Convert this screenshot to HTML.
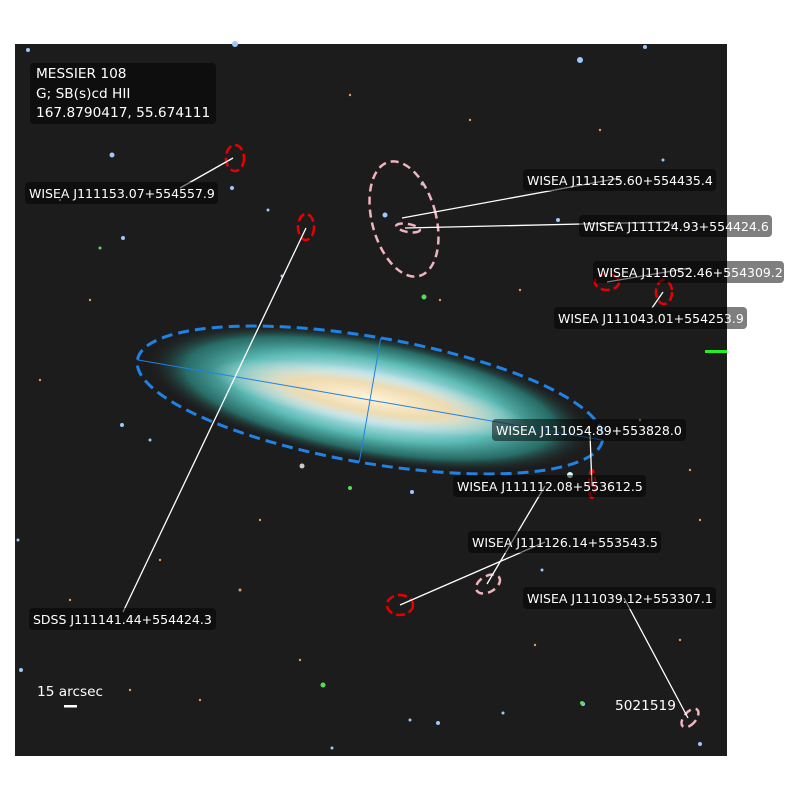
<!DOCTYPE html>
<html><head><meta charset="utf-8"><style>
html,body{margin:0;padding:0;background:#fff;width:800px;height:800px;overflow:hidden}
svg{display:block}
text{font-family:"DejaVu Sans","Liberation Sans",sans-serif;font-size:12.5px;fill:#fff}
text.big{font-size:13.7px}
</style></head><body>
<svg width="800" height="800" viewBox="0 0 800 800" xmlns="http://www.w3.org/2000/svg">
<defs>
<radialGradient id="halo" cx="0.5" cy="0.5" r="0.5">
<stop offset="0" stop-color="#eaf4ff"/>
<stop offset="0.35" stop-color="#bfe6ee"/>
<stop offset="0.6" stop-color="#5cbab4"/>
<stop offset="0.82" stop-color="#2a7a74" stop-opacity="0.85"/>
<stop offset="1" stop-color="#1c1c1c" stop-opacity="0"/>
</radialGradient>
<radialGradient id="core" cx="0.5" cy="0.5" r="0.5">
<stop offset="0" stop-color="#fff3d8"/>
<stop offset="0.5" stop-color="#f2d9a8" stop-opacity="0.9"/>
<stop offset="1" stop-color="#d8e8f0" stop-opacity="0"/>
</radialGradient>
</defs>
<rect x="15" y="44" width="712" height="712" fill="#1d1c1c"/>
<g transform="rotate(10 370 398)">
<ellipse cx="370" cy="398" rx="228" ry="64" fill="url(#halo)"/>
<ellipse cx="370" cy="398" rx="160" ry="28" fill="url(#core)"/>
</g>
<g fill="#9cc8ff">
<circle cx="235" cy="44" r="3"/><circle cx="580" cy="60" r="3"/><circle cx="645" cy="47" r="2"/><circle cx="112" cy="155" r="2.5"/>
<circle cx="232" cy="188" r="2"/><circle cx="123" cy="238" r="2"/><circle cx="268" cy="210" r="1.5"/><circle cx="385" cy="215" r="2.5"/>
<circle cx="558" cy="220" r="2"/><circle cx="663" cy="160" r="1.5"/><circle cx="282" cy="276" r="1.5"/><circle cx="28" cy="50" r="2"/>
<circle cx="18" cy="540" r="1.5"/><circle cx="21" cy="670" r="2"/><circle cx="410" cy="720" r="1.5"/><circle cx="438" cy="723" r="2"/>
<circle cx="332" cy="748" r="1.5"/><circle cx="583" cy="704" r="2"/><circle cx="700" cy="744" r="2"/><circle cx="503" cy="713" r="1.5"/>
<circle cx="422" cy="184" r="1.5"/><circle cx="302" cy="466" r="2.5" fill="#ccc"/><circle cx="122" cy="425" r="2"/><circle cx="150" cy="440" r="1.5"/>
<circle cx="412" cy="492" r="2"/><circle cx="542" cy="570" r="1.5"/><circle cx="570" cy="475" r="3" fill="#dff"/><circle cx="672" cy="225" r="1.5"/>
</g>
<g fill="#d9a060">
<circle cx="60" cy="200" r="1.2"/><circle cx="90" cy="300" r="1.2"/><circle cx="160" cy="560" r="1.2"/><circle cx="240" cy="590" r="1.5"/>
<circle cx="300" cy="660" r="1.2"/><circle cx="200" cy="700" r="1.2"/><circle cx="470" cy="120" r="1.2"/><circle cx="520" cy="290" r="1.2"/>
<circle cx="640" cy="420" r="1.2"/><circle cx="700" cy="520" r="1.2"/><circle cx="680" cy="640" r="1.2"/><circle cx="535" cy="645" r="1.2"/>
<circle cx="350" cy="95" r="1.2"/><circle cx="600" cy="130" r="1.2"/><circle cx="40" cy="380" r="1.2"/><circle cx="70" cy="600" r="1.2"/>
<circle cx="260" cy="520" r="1.2"/><circle cx="440" cy="300" r="1.2"/><circle cx="690" cy="470" r="1.2"/><circle cx="130" cy="690" r="1.2"/>
</g>
<g fill="#5d5">
<circle cx="424" cy="297" r="2.5"/><circle cx="323" cy="685" r="2.5"/><circle cx="350" cy="488" r="2"/><circle cx="100" cy="248" r="1.5"/><circle cx="582" cy="703" r="2"/>
</g>
<rect x="705" y="350" width="22" height="3" fill="#2e2"/>
<g transform="rotate(9.8 370 400)">
<ellipse cx="370" cy="400" rx="236" ry="63" fill="none" stroke="#1e82e6" stroke-width="3" stroke-dasharray="11,6"/>
<line x1="134" y1="400" x2="606" y2="400" stroke="#1e82e6" stroke-width="1"/>
<line x1="370" y1="337" x2="370" y2="463" stroke="#1e82e6" stroke-width="1"/>
</g>
<g fill="none" stroke="#f0b4be" stroke-width="2.5" stroke-dasharray="8,5">
<ellipse cx="404" cy="219" rx="32" ry="59" transform="rotate(-15 404 219)"/>
<ellipse cx="408" cy="228" rx="12" ry="4" transform="rotate(10 408 228)"/>
<ellipse cx="488" cy="584" rx="13" ry="8" transform="rotate(-30 488 584)"/>
<ellipse cx="690" cy="718" rx="6" ry="11" transform="rotate(40 690 718)"/>
</g>
<g fill="none" stroke="#e80000" stroke-width="2.5" stroke-dasharray="9,4">
<ellipse cx="235" cy="158" rx="9" ry="13"/>
<ellipse cx="306" cy="227" rx="8" ry="13"/>
<ellipse cx="607" cy="282" rx="12" ry="8"/>
<ellipse cx="664" cy="292" rx="8" ry="12"/>
<ellipse cx="592" cy="484" rx="3" ry="14"/>
<ellipse cx="400" cy="605" rx="13" ry="10"/>
</g>
<g stroke="#fff" stroke-width="1.3">
<line x1="233" y1="158" x2="180" y2="188"/>
<line x1="402" y1="218" x2="620" y2="178"/>
<line x1="405" y1="228" x2="670" y2="222"/>
<line x1="607" y1="282" x2="690" y2="268"/>
<line x1="663" y1="292" x2="652" y2="308"/>
<line x1="306" y1="228" x2="123" y2="612"/>
<line x1="590" y1="434" x2="592" y2="486"/>
<line x1="400" y1="605" x2="545" y2="542"/>
<line x1="487" y1="584" x2="545" y2="486"/>
<line x1="624" y1="598" x2="688" y2="718"/>
</g>
<g fill="#000" fill-opacity="0.5">
<rect x="30" y="63" width="186" height="61" rx="4"/>
<rect x="25" y="182" width="193" height="22" rx="4"/>
<rect x="523" y="169" width="193" height="22" rx="4"/>
<rect x="579" y="215" width="193" height="22" rx="4"/>
<rect x="593" y="261" width="191" height="22" rx="4"/>
<rect x="554" y="307" width="193" height="22" rx="4"/>
<rect x="492" y="419" width="194" height="22" rx="4"/>
<rect x="453" y="475" width="193" height="22" rx="4"/>
<rect x="468" y="531" width="193" height="22" rx="4"/>
<rect x="523" y="587" width="193" height="22" rx="4"/>
<rect x="29" y="608" width="187" height="22" rx="4"/>
</g>
<text class="big" x="36" y="78">MESSIER 108</text>
<text class="big" x="36" y="98">G; SB(s)cd HII</text>
<text class="big" x="36" y="117">167.8790417, 55.674111</text>
<text x="29" y="198">WISEA J111153.07+554557.9</text>
<text x="527" y="185">WISEA J111125.60+554435.4</text>
<text x="583" y="231">WISEA J111124.93+554424.6</text>
<text x="597" y="277">WISEA J111052.46+554309.2</text>
<text x="558" y="323">WISEA J111043.01+554253.9</text>
<text x="496" y="435">WISEA J111054.89+553828.0</text>
<text x="457" y="491">WISEA J111112.08+553612.5</text>
<text x="472" y="547">WISEA J111126.14+553543.5</text>
<text x="527" y="603">WISEA J111039.12+553307.1</text>
<text x="33" y="624">SDSS J111141.44+554424.3</text>
<text class="big" x="37" y="696">15 arcsec</text>
<rect x="64" y="705" width="13" height="2.5" fill="#fff"/>
<text class="big" x="615" y="710">5021519</text>
</svg>
</body></html>
